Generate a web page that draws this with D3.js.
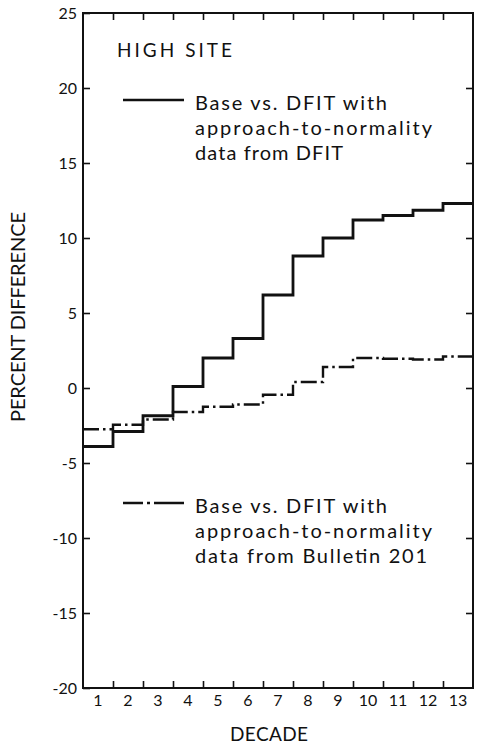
<!DOCTYPE html>
<html>
<head>
<meta charset="utf-8">
<script src="https://cdn.jsdelivr.net/npm/d3@7"></script>
<style>
  html, body { margin: 0; padding: 0; background: #fff; }
  svg { display: block; }
  text { font-family: Lato, "Open Sans", sans-serif; font-weight: 400; fill: #111; }
</style>
</head>
<body>
<div id="rootDiv"></div>
<script>
const decades = ["1", "2", "3", "4", "5", "6", "7", "8", "9", "10", "11", "12", "13"];
// Base vs. DFIT, approach-to-normality data from DFIT (solid)
const dfitValues = [-3.9, -2.9, -1.85, 0.1, 2.0, 3.3, 6.2, 8.8, 10.0, 11.2, 11.5, 11.85, 12.3];
// Base vs. DFIT, approach-to-normality data from Bulletin 201 (dash-dot)
const bulletinValues = [-2.75, -2.45, -2.1, -1.6, -1.25, -1.1, -0.45, 0.4, 1.4, 2.0, 1.95, 1.9, 2.1];
const yTicks = [-20, -15, -10, -5, 0, 5, 10, 15, 20, 25];
const legendDfit = ["Base vs. DFIT with", "approach-to-normality", "data from DFIT"];
const legendBulletin = ["Base vs. DFIT with", "approach-to-normality", "data from Bulletin 201"];

const width = 477;
const height = 752;
const margin = { top: 13, right: 4, bottom: 64, left: 83 };
const ink = "#111";

const svg = d3.select(document.getElementById("rootDiv"))
    .append("svg")
    .attr("width", width)
    .attr("height", height);

const x = d3.scaleBand()
    .domain(decades)
    .range([margin.left, width - margin.right]);

// boundaries between decades, for the tick marks
const xEdge = d3.scaleLinear()
    .domain([0, decades.length])
    .range([margin.left, width - margin.right]);

const y = d3.scaleLinear()
    .domain([-20, 25])
    .range([height - margin.bottom, margin.top]);

const edgeTicks = d3.range(1, decades.length);

// Axes
const yAxis = svg.append("g")
    .attr("transform", `translate(${margin.left},0)`)
    .call(d3.axisLeft(y).tickValues(yTicks).tickSize(-7).tickPadding(6).tickFormat(d => String(d)));

const yAxis2 = svg.append("g")
    .attr("transform", `translate(${width - margin.right},0)`)
    .call(d3.axisRight(y).tickValues(yTicks.slice(1, -1)).tickSize(-7).tickFormat(""));

const xTop = svg.append("g")
    .attr("transform", `translate(0,${margin.top})`)
    .call(d3.axisTop(xEdge).tickValues(edgeTicks).tickSize(-7).tickFormat(""));

const xBottom = svg.append("g")
    .attr("transform", `translate(0,${height - margin.bottom})`)
    .call(d3.axisBottom(xEdge).tickValues(edgeTicks).tickSize(-7).tickFormat(""));

const xLabels = svg.append("g")
    .attr("transform", `translate(0,${height - margin.bottom})`)
    .call(d3.axisBottom(x).tickSize(0).tickPadding(7));

const axes = [yAxis, yAxis2, xTop, xBottom, xLabels];
for (const axis of axes) {
    axis.select(".domain").remove();
    axis.selectAll("line").style("stroke", ink).style("stroke-width", 1.6);
    axis.selectAll("text").style("fill", ink).style("font-size", "16px")
        .style("font-family", "Lato, sans-serif");
}

// Frame
svg.append("rect")
    .attr("x", margin.left)
    .attr("y", margin.top)
    .attr("width", width - margin.right - margin.left)
    .attr("height", height - margin.bottom - margin.top)
    .attr("fill", "none")
    .attr("stroke", ink)
    .attr("stroke-width", 2);

// Step lines
function stepPoints(values) {
    const pts = [];
    values.forEach((v, i) => {
        pts.push([x(decades[i]), y(v)]);
        pts.push([x(decades[i]) + x.bandwidth(), y(v)]);
    });
    return pts;
}
const line = d3.line();

svg.append("path")
    .attr("d", line(stepPoints(bulletinValues)))
    .attr("fill", "none")
    .attr("stroke", ink)
    .attr("stroke-width", 2.4)
    .attr("stroke-dasharray", "16,4,2.5,4");

svg.append("path")
    .attr("d", line(stepPoints(dfitValues)))
    .attr("fill", "none")
    .attr("stroke", ink)
    .attr("stroke-width", 2.8);

// Title inside plot
svg.append("text")
    .attr("x", 117)
    .attr("y", 57)
    .attr("font-size", 19)
    .attr("textLength", 115)
    .attr("lengthAdjust", "spacing")
    .text("HIGH SITE");

// Legends
function legend(lines, y0, dash, lens) {
    svg.append("line")
        .attr("x1", 123).attr("x2", 184)
        .attr("y1", y0 - 10).attr("y2", y0 - 10)
        .attr("stroke", ink)
        .attr("stroke-width", 2.4)
        .attr("stroke-dasharray", dash);
    lines.forEach((t, i) => {
        svg.append("text")
            .attr("x", 195)
            .attr("y", y0 + i * 25)
            .attr("font-size", 20)
            .attr("textLength", lens[i])
            .attr("lengthAdjust", "spacing")
            .text(t);
    });
}
legend(legendDfit, 110, null, [192, 237, 148]);
legend(legendBulletin, 513, "20,4,3,4,30", [192, 237, 232]);

// Axis titles
svg.append("text")
    .attr("x", 269)
    .attr("y", 741)
    .attr("text-anchor", "middle")
    .attr("font-size", 19)
    .attr("textLength", 78)
    .attr("lengthAdjust", "spacing")
    .text("DECADE");

svg.append("text")
    .attr("transform", "translate(25,317) rotate(-90)")
    .attr("text-anchor", "middle")
    .attr("font-size", 20)
    .attr("textLength", 210)
    .attr("lengthAdjust", "spacing")
    .text("PERCENT DIFFERENCE");
</script>
</body>
</html>
